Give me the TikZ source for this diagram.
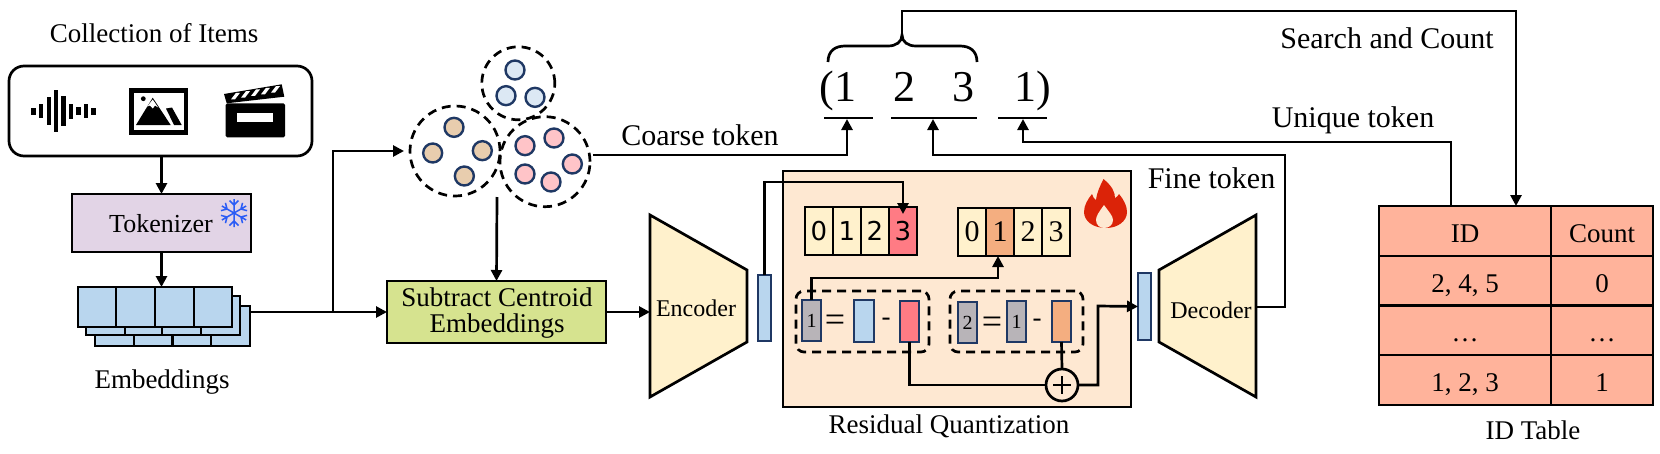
\documentclass[tikz,border=0pt]{standalone}
\usepackage{fontspec}
\setmainfont{Liberation Serif}
\newfontfamily\digitsans{DejaVu Sans}
\usetikzlibrary{arrows.meta,calc}
\newcommand{\fs}[1]{\fontsize{#1}{#1}\selectfont}
\definecolor{navy}{HTML}{1F3864}
\definecolor{blueb}{HTML}{B9D6EE}
\definecolor{cream}{HTML}{FFF1CC}
\definecolor{redc}{HTML}{FF7B84}
\definecolor{orangec}{HTML}{F4AE80}
\definecolor{grayc}{HTML}{B8B4B8}
\definecolor{tokc}{HTML}{E2D4E6}
\definecolor{snowc}{HTML}{2B5CF5}
\definecolor{dotb}{HTML}{DCE8F4}
\definecolor{dotl}{HTML}{E8CDAE}
\definecolor{dotr}{HTML}{FFC4C8}
\definecolor{subc}{HTML}{D6E38F}
\definecolor{rqc}{HTML}{FEE8D2}
\definecolor{flamec}{HTML}{DB2308}
\definecolor{tabc}{HTML}{FFB39B}
\tikzset{
  ln/.style={line width=2.7pt,draw=black},
  arr/.style={ln,-{Triangle[length=11pt,width=11pt]}},
  box/.style={draw=black,line width=2.7pt,inner sep=0pt,outer sep=0pt},
  txt/.style={inner sep=0pt,outer sep=0pt,font=\fs{27}},
  lbl/.style={inner sep=0pt,outer sep=0pt,font=\fs{30}},
  cluster/.style={circle,draw=black,line width=2.7pt,dash pattern=on 9pt off 6pt,minimum size=#1,inner sep=0pt,outer sep=0pt},
  dot/.style={circle,draw=navy,line width=2.4pt,fill=#1,minimum size=19pt,inner sep=0pt},
  vbar/.style={draw=navy,line width=2.6pt,fill=#1,inner sep=0pt,outer sep=0pt},
  cell/.style={box,line width=2pt,fill=#1,minimum width=28pt,minimum height=48pt},
  tcell/.style={box,fill=#1,font=\fs{27},text height=23pt,text depth=0pt},
  dbox/.style={draw=black,line width=2.7pt,dash pattern=on 9pt off 6pt,rounded corners=8pt,inner sep=0pt,outer sep=0pt},
  tok/.style={inner sep=0pt,outer sep=0pt,font=\fs{44},anchor=base},
}
\begin{document}
\begin{tikzpicture}[x=1pt,y=-1pt]
\useasboundingbox (0,0) rectangle (1660,453);

% ---- Items
\node[txt] (title) at (154,33) {Collection of Items};
\node[box,rounded corners=15pt,minimum width=303pt,minimum height=90pt] (items) at (160.5,111) {};
\foreach \x/\h in {33.3/3.5,41/7,48.7/14,56/21,63.3/15,71/7.5,78.3/4,85.7/7,93.3/3.5}
  \fill (\x-2.2,111-\h) rectangle (\x+2.2,111+\h);
% image icon
\draw[line width=4.6pt] (131.6,90.6) rectangle (186,132.7);
\fill (143.3,98.7) circle (2.4);
\fill (136,125) -- (152.7,97.7) -- (170.7,125) -- cycle;
\fill[white] (147.3,106.5) -- (152.7,99.5) -- (158.2,107.5) -- (155,105.5) -- (152.8,108.5) -- (150,105.5) -- cycle;
\fill (166,108.5) -- (172,107.5) -- (181.7,125) -- (174,125) -- cycle;
% clapper icon
\fill[rounded corners=1.5pt] (225.7,103.3) rectangle (285,137.3);
\fill[white] (237.3,113.3) rectangle (273.3,122);
\fill (224,94) -- (281.7,84.3) -- (284.3,96.7) -- (226.7,103.3) -- cycle;
\foreach \x in {231,241,251,261,271}
  \fill[white] ({\x},{94.5-(\x-224)*0.168+6}) -- ({\x+4},{94.5-(\x-224)*0.168+6}) -- ({\x+9},{94.5-(\x-224)*0.168-0.5}) -- ({\x+5},{94.5-(\x-224)*0.168-0.5}) -- cycle;

% ---- Tokenizer
\node[box,fill=tokc,minimum width=179pt,minimum height=58pt] (tokr) at (161.5,223) {};
\node[txt,font=\fs{26}] (tokt) at (161,224) {Tokenizer};
\foreach \a in {0,60,120,180,240,300}{
  \begin{scope}[shift={(234,213)},rotate=\a+30]
    \draw[draw=snowc,line width=1.5pt] (0,0) -- (14,0) (8,0) -- (12.5,-4.5) (8,0) -- (12.5,4.5);
  \end{scope}}
\draw[arr] (items.south -| tokr.north) -- (tokr.north);

% ---- Embedding stack
\draw[box,fill=blueb] (95,306) rectangle (250,346);
\draw[ln] (134,306) -- (134,346) (172.5,306) -- (172.5,346) (211,306) -- (211,346);
\draw[box,fill=blueb] (86,296) rectangle (240,335);
\draw[ln] (125,296) -- (125,335) (162,296) -- (162,335) (201,296) -- (201,335);
\node[box,fill=blueb,minimum width=154pt,minimum height=40pt] (emb) at (155,307) {};
\draw[ln] (116,287) -- (116,327) (155,287) -- (155,327) (194,287) -- (194,327);
\node[txt] (embt) at (162,382) {Embeddings};
\draw[arr] (tokr.south) -- (tokr.south |- emb.north);
\coordinate (embout) at (250,312);
\coordinate (branch) at (333,312);

% ---- Clusters
\node[cluster=73pt] (cb) at (518.3,83.3) {};
\node[cluster=90pt] (cl) at (455,151) {};
\node[cluster=90pt] (cr) at (545,161.7) {};
\foreach \x/\y in {405/210,378/287,465/292} \node[dot=dotb] at ({380+\x/3},{\y/3}) {};
\foreach \x/\y in {222/382,158/459,307/452,253/528} \node[dot=dotl] at ({380+\x/3},{\y/3}) {};
\foreach \x/\y in {435/437,522/414,577/492,435/522,513/546} \node[dot=dotr] at ({380+\x/3},{\y/3}) {};

% ---- Subtract
\node[box,fill=subc,minimum width=219pt,minimum height=62pt,align=center] (sub) at (496.5,312) {};
\node[txt] (subt) at (497,297) {Subtract Centroid};
\node[txt] (subt2) at (497,326) {Embeddings};
\draw[ln] (embout) -- (branch);
\draw[arr] (branch) -- (sub.west);
\draw[arr,shorten >=6pt] (branch) |- (cl.west);
\draw[arr] (497,197) -- (sub.north);

% ---- Encoder
\draw[ln,fill=cream,line join=miter] (650,215) -- (747,270) -- (747,342) -- (650,397) -- cycle;
\node[txt,font=\fs{24}] (enct) at (696,308) {Encoder};
\coordinate (encin) at (650,312);
\draw[arr] (sub.east) -- (encin);
\node[vbar=blueb,minimum width=13pt,minimum height=66pt] (barl) at (764.5,308) {};

% ---- Residual Quantization
\node[box,fill=rqc,minimum width=348pt,minimum height=236pt] (rq) at (957,289) {};
\node[txt] (rqt) at (949,426) {Residual Quantization};

\foreach \n/\x/\c/\d in {a0/819/cream/0,a1/847/cream/1,a2/875/cream/2,a3/903/redc/3}
  \node[cell=\c,font={\digitsans\fs{26}}] (\n) at (\x,231) {\d};
\foreach \n/\x/\c/\d in {b0/972/cream/0,b1/1000/orangec/1,b2/1028/cream/2,b3/1056/cream/3}
  \node[cell=\c,font=\fs{30}] (\n) at (\x,231.5) {\d};

\node[dbox,minimum width=133pt,minimum height=61pt] (d1) at (862.5,321.5) {};
\node[dbox,minimum width=133pt,minimum height=61pt] (d2) at (1016.5,321.5) {};

\node[vbar=grayc,minimum width=19pt,minimum height=41pt,font=\fs{20}] (g1) at (811.5,320.5) {1};
\node[txt,font=\fs{36}] (eq1) at (835,323) {=};
\node[vbar=blueb,minimum width=20pt,minimum height=42pt] (bb) at (864,321) {};
\node[txt,font=\fs{27}] (m1) at (886,321.5) {-};
\node[vbar=redc,minimum width=19pt,minimum height=41pt] (rb) at (909.5,321.5) {};

\node[vbar=grayc,minimum width=19pt,minimum height=41pt,font=\fs{20}] (g2) at (967.5,322.5) {2};
\node[txt,font=\fs{36}] (eq2) at (992,325) {=};
\node[vbar=grayc,minimum width=19pt,minimum height=41pt,font=\fs{20}] (g3) at (1016.5,321.5) {1};
\node[txt,font=\fs{27}] (m2) at (1037,323) {-};
\node[vbar=orangec,minimum width=19pt,minimum height=41pt] (ob) at (1061.5,321.5) {};

\node[circle,draw=black,line width=2.7pt,minimum size=32pt,inner sep=0pt,outer sep=0pt,fill=rqc] (plus) at (1062,385) {};
\draw[line width=2.2pt] (1053,385) -- (1071,385) (1062,376) -- (1062,394);

\node[vbar=blueb,minimum width=13pt,minimum height=67pt] (barr) at (1144.5,306.5) {};

\draw[arr] (barl.north) |- (903,182) -- (903,214);
\draw[arr] (g1.north) |- (998,278) -- (998,256);
\draw[ln] (rb.south) |- (plus.west);
\draw[ln] (ob.south) -- (plus.north);
\draw[arr] (plus.east) -| (1098,306) -- (barr.west);

% flame
\fill[flamec] (1103.5,179) .. controls (1112,186) and (1115,192) .. (1115,198) .. controls (1117,197) and (1118,196) .. (1119,194) .. controls (1124,200) and (1127,206) .. (1127,212) .. controls (1127,221) and (1118,228) .. (1106,228) .. controls (1093,228) and (1084,221) .. (1084,212) .. controls (1084,205) and (1088,199) .. (1092,194) .. controls (1093,197) and (1094,199) .. (1096,200) .. controls (1097,192) and (1100,186) .. (1103.5,179) -- cycle;
\fill[rqc] (1104,205) .. controls (1099,212) and (1096,216) .. (1096,220) .. controls (1096,225) and (1100,228) .. (1104,228) .. controls (1109,228) and (1113,225) .. (1113,220) .. controls (1113,216) and (1109,212) .. (1104,205) -- cycle;

% ---- Decoder
\draw[ln,fill=cream] (1159,270) -- (1256,215) -- (1256,397) -- (1159,342) -- cycle;
\node[txt,font=\fs{24}] (dect) at (1211,310) {Decoder};
\coordinate (decout) at (1256,307);

% ---- Tokens
\node[tok] (t1) at (838,101.7) {(1};
\node[tok] (t2) at (904,101.7) {2};
\node[tok] (t3) at (963,101.7) {3};
\node[tok] (t4) at (1033,101.7) {1)};
\coordinate (u1a) at (824,118); \coordinate (u1b) at (873,118);
\coordinate (u2a) at (891,118); \coordinate (u2b) at (977,118);
\coordinate (u3a) at (998,118); \coordinate (u3b) at (1047,118);
\draw[ln] (u1a) -- (u1b) (u2a) -- (u2b) (u3a) -- (u3b);
\draw[ln] (828,62) .. controls (828,51) and (835,46) .. (845,46) -- (888,46) .. controls (896,46) and (902,42) .. (902,35) .. controls (902,42) and (908,46) .. (916,46) -- (960,46) .. controls (970,46) and (977,51) .. (977,62);
\coordinate (bracetip) at (902,35);

% ---- Table
\foreach \n/\y/\h/\a/\b in {r1/231/50/ID/Count,r2/280.75/49.5/{2, 4, 5}/0,r3/330.25/49.5/…/…,r4/380/50/{1, 2, 3}/1}{
  \node[tcell=tabc,minimum width=172pt,minimum height=\h pt] (\n a) at (1465,\y) {\a};
  \node[tcell=tabc,minimum width=102pt,minimum height=\h pt] (\n b) at (1602,\y) {\b};
}
\node[txt] (tabt) at (1533,430) {ID Table};

% ---- Long connectors
\coordinate (coarsestart) at (593,155);
\draw[arr] (coarsestart) -| (847,119);
\node[lbl] (coarse) at (700,135) {Coarse token};
\draw[arr] (decout) -| (1285,155) -| (933,119);
\node[lbl] (fine) at (1211.5,178) {Fine token};
\draw[arr] (1451,206) |- (1023,142) -- (1023,119);
\node[lbl] (uniq) at (1353,120) {Unique token};
\draw[arr] (bracetip) |- (1516,11) -- (1516,206);
\node[lbl] (search) at (1387,38) {Search and Count};
\end{tikzpicture}
\end{document}
